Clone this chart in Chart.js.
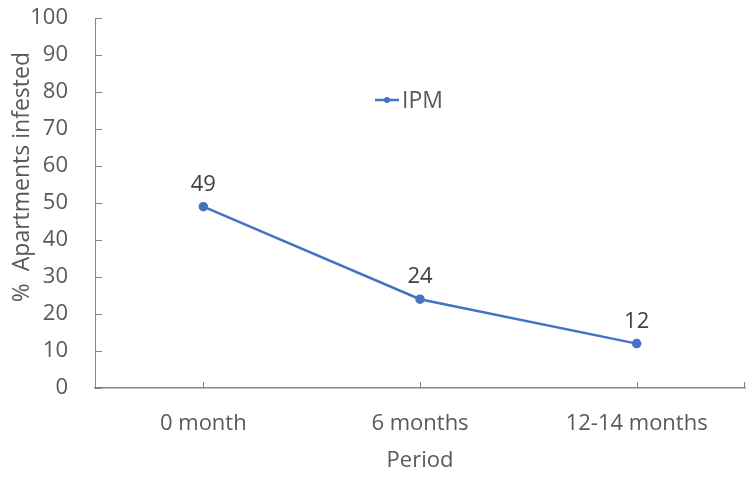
<!DOCTYPE html>
<html>
<head>
<meta charset="utf-8">
<script src="https://cdn.jsdelivr.net/npm/chart.js@4/dist/chart.umd.min.js"></script>
<style>
  html, body { margin: 0; padding: 0; background: #fff; }
  #wrap { width: 751px; height: 481px; }
</style>
</head>
<body>
<div id="wrap"><canvas id="c" width="751" height="481"></canvas></div>
<script>
const periods = ['0 month', '6 months', '12-14 months'];
const ipmValues = [49, 24, 12];
const seriesName = 'IPM';
const yTicks = [0, 10, 20, 30, 40, 50, 60, 70, 80, 90, 100];
const yTitle = '%  Apartments infested';

const FONT = '"Open Sans", sans-serif';
const FONT_SIZE = 22;
const LINE_COLOR = '#4472C4';
const TEXT_GRAY = '#595959';
const AXIS_GRAY = '#868686';

// Short tick marks pointing into the plot area, value labels, y title and legend
const decorations = {
  id: 'decorations',
  afterDatasetsDraw(chart) {
    const ctx = chart.ctx;
    const x = chart.scales.x, y = chart.scales.y;
    ctx.save();
    ctx.strokeStyle = AXIS_GRAY;
    ctx.lineWidth = 1;
    ctx.beginPath();
    yTicks.forEach(v => {
      const py = Math.round(y.getPixelForValue(v)) + 0.5;
      ctx.moveTo(x.left, py);
      ctx.lineTo(x.left + 7, py);
    });
    periods.forEach((p, i) => {
      const px = Math.round(x.getPixelForValue(i)) + 0.5;
      ctx.moveTo(px, y.bottom);
      ctx.lineTo(px, y.bottom - 6);
    });
    ctx.moveTo(x.right - 0.5, y.bottom);
    ctx.lineTo(x.right - 0.5, y.bottom - 6);
    ctx.stroke();

    // value labels above points
    const meta = chart.getDatasetMeta(0);
    ctx.fillStyle = '#404040';
    ctx.font = FONT_SIZE + 'px ' + FONT;
    ctx.textAlign = 'center';
    ctx.textBaseline = 'middle';
    meta.data.forEach((pt, i) => {
      ctx.fillText(String(ipmValues[i]), pt.x, pt.y - 22);
    });

    // rotated y-axis title, sitting a little above the axis middle
    ctx.save();
    ctx.translate(22, y.getPixelForValue(57));
    ctx.rotate(-Math.PI / 2);
    ctx.fillStyle = TEXT_GRAY;
    ctx.font = '23px ' + FONT;
    ctx.textAlign = 'center';
    ctx.textBaseline = 'middle';
    ctx.fillText(yTitle, 0, 0);
    ctx.restore();

    // legend entry
    const lx = 375, ly = 100;
    ctx.strokeStyle = LINE_COLOR;
    ctx.lineWidth = 2.5;
    ctx.beginPath();
    ctx.moveTo(lx, ly);
    ctx.lineTo(lx + 24, ly);
    ctx.stroke();
    ctx.fillStyle = LINE_COLOR;
    ctx.beginPath();
    ctx.arc(lx + 12, ly, 3, 0, Math.PI * 2);
    ctx.fill();
    ctx.fillStyle = TEXT_GRAY;
    ctx.font = '23px ' + FONT;
    ctx.textAlign = 'left';
    ctx.textBaseline = 'middle';
    ctx.fillText(seriesName, lx + 27, ly + 1);
    ctx.restore();
  }
};

new Chart(document.getElementById('c'), {
  type: 'line',
  data: {
    labels: periods,
    datasets: [{
      label: seriesName,
      data: ipmValues,
      borderColor: LINE_COLOR,
      backgroundColor: LINE_COLOR,
      borderWidth: 2.5,
      pointRadius: 3.5,
      pointHoverRadius: 3.5,
      tension: 0
    }]
  },
  options: {
    responsive: false,
    animation: false,
    events: [],
    layout: { padding: { top: 18, right: 5, left: 0, bottom: 0 } },
    plugins: {
      legend: { display: false },
      tooltip: { enabled: false }
    },
    scales: {
      x: {
        type: 'category',
        offset: true,
        grid: { display: false, drawTicks: false },
        border: { display: true, color: AXIS_GRAY, width: 1.5 },
        ticks: { color: TEXT_GRAY, font: { family: FONT, size: FONT_SIZE }, padding: 23, maxRotation: 0 },
        title: { display: true, text: 'Period', color: TEXT_GRAY, font: { family: FONT, size: FONT_SIZE }, padding: { top: 0, bottom: 7 } },
        afterFit(s) { s.height = 93; s.paddingLeft = 0; s.paddingRight = 0; }
      },
      y: {
        min: 0, max: 100,
        afterBuildTicks(s) { s.ticks = yTicks.map(v => ({ value: v })); },
        grid: { display: false, drawTicks: false },
        border: { display: true, color: AXIS_GRAY, width: 1 },
        ticks: { color: TEXT_GRAY, font: { family: FONT, size: FONT_SIZE }, padding: 27 },
        title: { display: false },
        afterFit(s) { s.width = 95; s.paddingTop = 0; s.paddingBottom = 0; }
      }
    }
  },
  plugins: [decorations]
});
</script>
</body>
</html>
